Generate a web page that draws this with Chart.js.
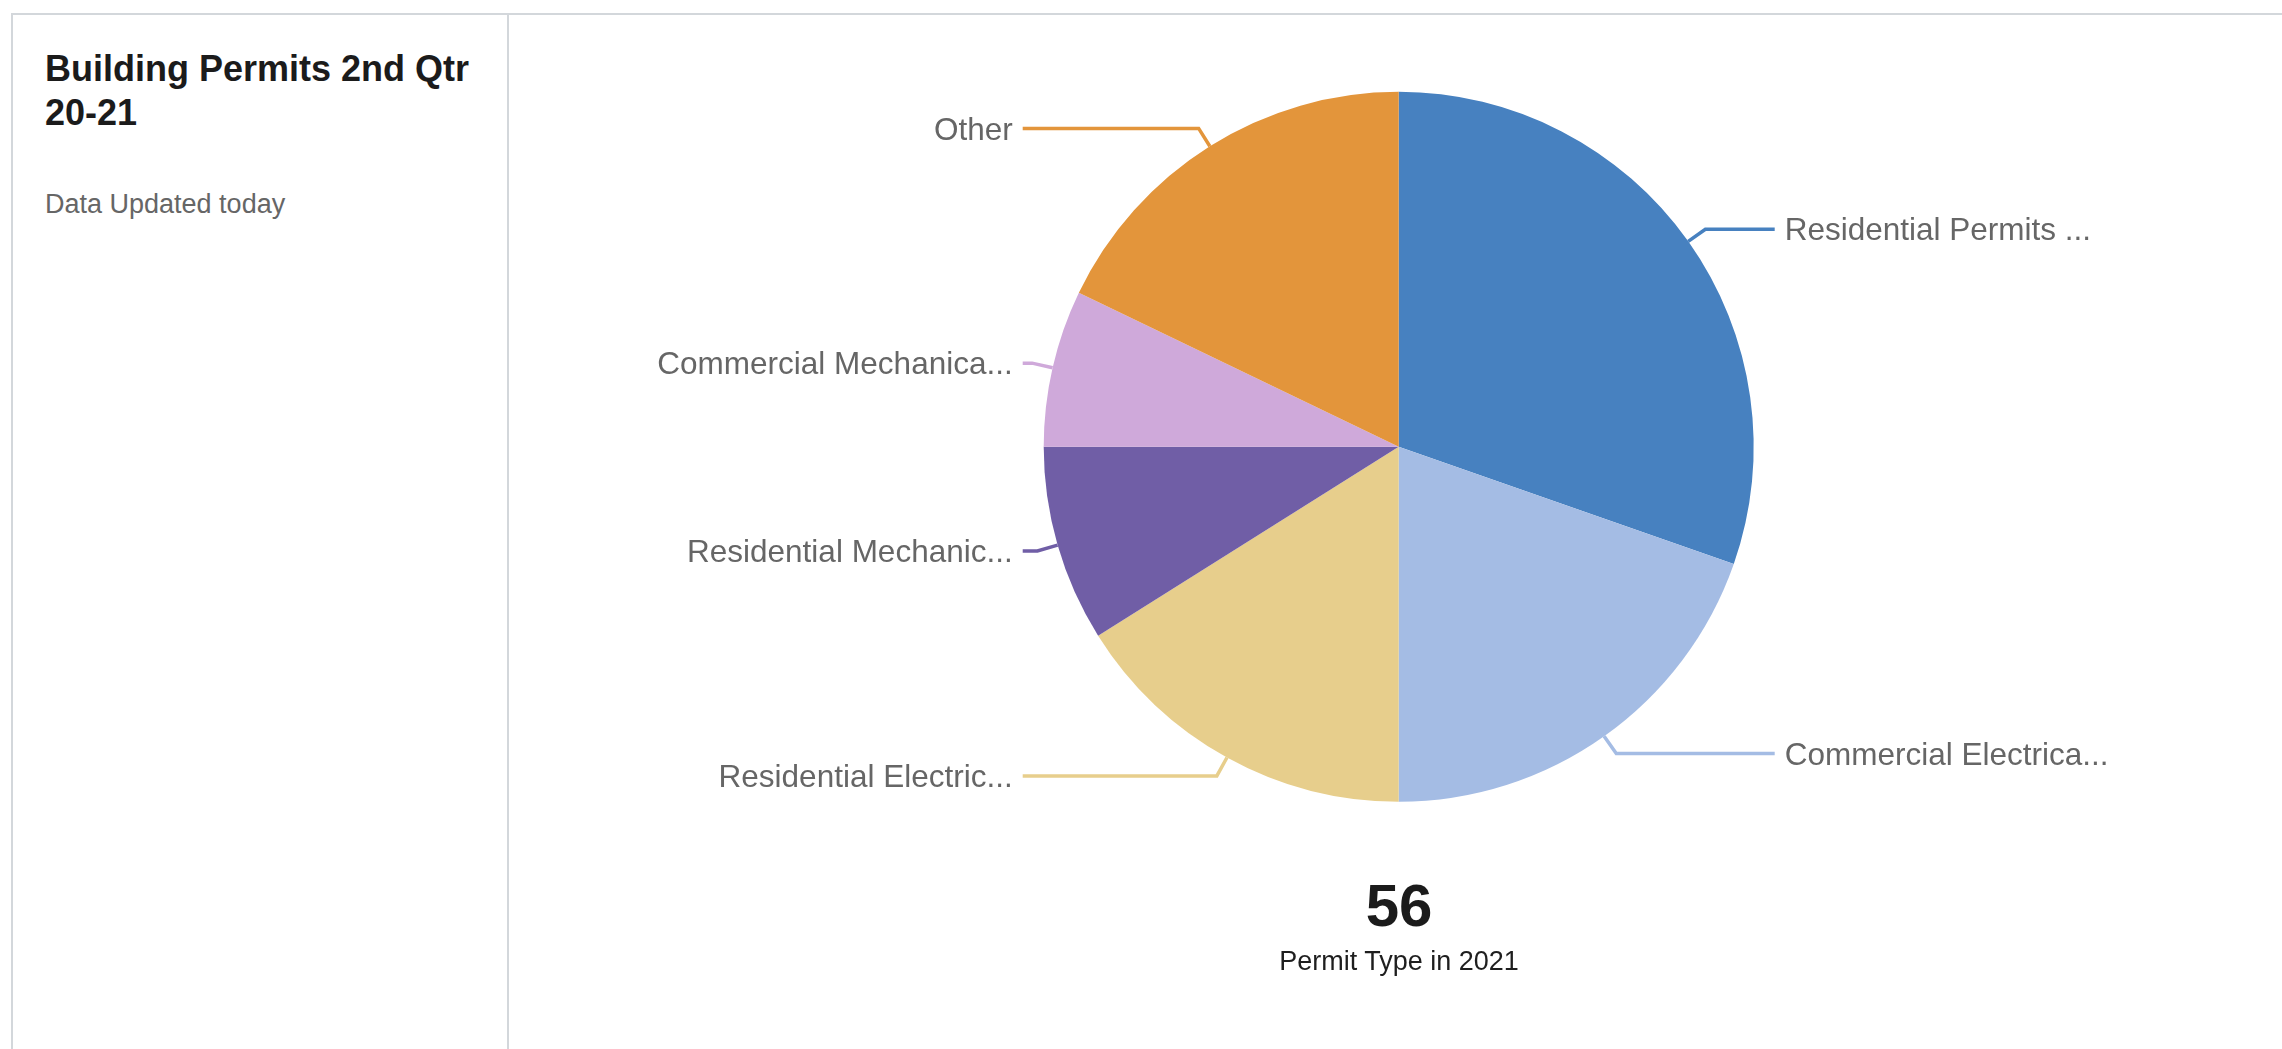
<!DOCTYPE html>
<html>
<head>
<meta charset="utf-8">
<script src="https://cdn.jsdelivr.net/npm/chart.js@4/dist/chart.umd.min.js"></script>
<style>
  html, body { margin: 0; padding: 0; background: #fff; width: 2282px; height: 1049px; overflow: hidden; }
  body { position: relative; font-family: "Liberation Sans", Arial, sans-serif; }
  #leftPanel { position: absolute; left: 11px; top: 13px; width: 494px; height: 1100px;
    border-top: 2px solid #d3d7db; border-left: 2px solid #d3d7db; border-right: 2px solid #d3d7db; }
  #rightTop { position: absolute; left: 509px; top: 13px; right: 0; height: 0; border-top: 2px solid #d3d7db; }
  #title { position: absolute; left: 45px; top: 47px; width: 440px; font-size: 36px; font-weight: bold;
    line-height: 44px; color: #1b1b1b; }
  #sub { position: absolute; left: 45px; top: 190.5px; font-size: 27px; line-height: 27px; color: #666; white-space: nowrap; }
  #total { position: absolute; left: 1199px; width: 400px; top: 875.5px; text-align: center; font-size: 60px;
    font-weight: bold; line-height: 60px; color: #1b1b1b; }
  #totalLabel { position: absolute; left: 1199px; width: 400px; top: 948px; text-align: center; font-size: 27px;
    line-height: 27px; color: #1e1e1e; }
  #c { position: absolute; left: 0; top: 0; }
</style>
</head>
<body>
<div id="leftPanel"></div>
<div id="rightTop"></div>
<div id="title">Building Permits 2nd Qtr 20-21</div>
<div id="sub">Data Updated today</div>
<canvas id="c" width="2282" height="1049"></canvas>
<div id="total"></div>
<div id="totalLabel">Permit Type in 2021</div>
<script>
const categories = ["Residential Permits ...", "Commercial Electrica...", "Residential Electric...",
                    "Residential Mechanic...", "Commercial Mechanica...", "Other"];
const permitCounts = [17, 11, 9, 5, 4, 10];
const sliceColors = ["#4781c0", "#a4bce4", "#e7ce8c", "#705ea6", "#cfa9da", "#e3953b"];
const totalCaption = "Permit Type in 2021";

document.getElementById('total').textContent = permitCounts.reduce((a, b) => a + b, 0);
document.getElementById('totalLabel').textContent = totalCaption;

const leaderPlugin = {
  id: 'leaders',
  afterDatasetsDraw(chart) {
    const ctx = chart.ctx;
    const meta = chart.getDatasetMeta(0);
    const fs = 31.5;
    ctx.save();
    ctx.font = fs + 'px "Liberation Sans", Arial, sans-serif';
    ctx.textBaseline = 'alphabetic';
    meta.data.forEach((arc, i) => {
      const p = arc.getProps(['x', 'y', 'startAngle', 'endAngle', 'outerRadius'], true);
      const mid = (p.startAngle + p.endAngle) / 2;
      const r0 = p.outerRadius, r1 = p.outerRadius + 21;
      const ax = p.x + Math.cos(mid) * r0, ay = p.y + Math.sin(mid) * r0;
      const ex = p.x + Math.cos(mid) * r1, ey = p.y + Math.sin(mid) * r1;
      const right = Math.cos(mid) >= 0;
      const hx = right ? p.x + r1 : p.x - r1;
      ctx.strokeStyle = sliceColors[i];
      ctx.lineWidth = 3.5;
      ctx.lineJoin = 'miter';
      ctx.beginPath();
      ctx.moveTo(ax, ay);
      ctx.lineTo(ex, ey);
      ctx.lineTo(hx, ey);
      ctx.stroke();
      ctx.fillStyle = '#666666';
      ctx.textAlign = right ? 'left' : 'right';
      ctx.fillText(chart.data.labels[i], right ? hx + 10 : hx - 10, ey + 0.358 * fs);
    });
    ctx.restore();
  }
};

new Chart(document.getElementById('c'), {
  type: 'pie',
  data: {
    labels: categories,
    datasets: [{
      data: permitCounts,
      backgroundColor: sliceColors,
      borderWidth: 0,
      hoverOffset: 0,
      radius: 355
    }]
  },
  options: {
    responsive: false,
    animation: false,
    devicePixelRatio: 1,
    layout: { padding: { left: 1043.7, right: 528.3, top: 91.8, bottom: 247.2 } },
    plugins: { legend: { display: false }, tooltip: { enabled: false }, title: { display: false } },
    events: []
  },
  plugins: [leaderPlugin]
});
</script>
</body>
</html>
